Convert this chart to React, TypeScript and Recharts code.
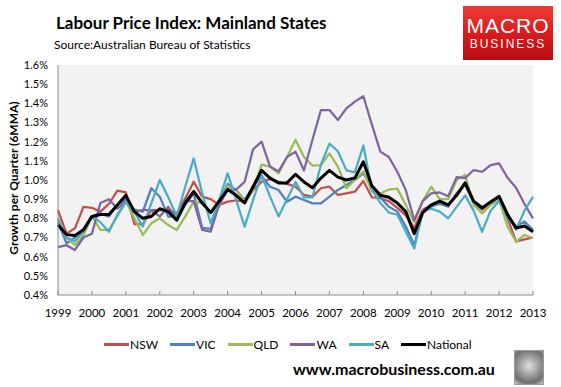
import React from 'react';
import { LineChart, Line, XAxis, YAxis, CartesianGrid } from 'recharts';

// quarterly, 1999 Q1 .. 2013 Q1, growth per quarter (%), 6MMA
const years = [1999, 2000, 2001, 2002, 2003, 2004, 2005, 2006, 2007, 2008, 2009, 2010, 2011, 2012, 2013];
const yTicks = [0.4, 0.5, 0.6, 0.7, 0.8, 0.9, 1.0, 1.1, 1.2, 1.3, 1.4, 1.5, 1.6];

const nsw = [0.843, 0.72, 0.748, 0.86, 0.855, 0.835, 0.875, 0.945, 0.935, 0.77, 0.77, 0.843, 0.843, 0.843, 0.826, 0.904, 0.991, 0.913, 0.9, 0.87, 0.887, 0.893, 0.887, 0.948, 0.99, 1.005, 0.99, 0.98, 0.965, 0.922, 0.913, 0.957, 0.965, 0.922, 0.93, 0.939, 0.995, 0.91, 0.905, 0.89, 0.855, 0.815, 0.75, 0.845, 0.87, 0.875, 0.865, 0.93, 0.975, 0.88, 0.845, 0.875, 0.905, 0.8, 0.68, 0.69, 0.7];
const vic = [0.78, 0.67, 0.7, 0.74, 0.81, 0.826, 0.809, 0.87, 0.9, 0.845, 0.835, 0.957, 0.913, 0.809, 0.809, 0.87, 0.93, 0.75, 0.745, 0.88, 0.98, 0.948, 0.896, 0.965, 1.02, 0.965, 0.948, 0.887, 0.913, 0.896, 0.878, 0.878, 0.913, 0.948, 0.974, 1.0, 1.035, 0.96, 0.91, 0.861, 0.835, 0.757, 0.66, 0.835, 0.861, 0.878, 0.861, 0.93, 0.983, 0.887, 0.852, 0.887, 0.913, 0.8, 0.757, 0.783, 0.739];
const qld = [0.79, 0.7, 0.66, 0.71, 0.81, 0.74, 0.74, 0.81, 0.89, 0.8, 0.713, 0.774, 0.8, 0.765, 0.739, 0.81, 0.887, 0.88, 0.83, 0.86, 0.97, 0.95, 0.89, 0.95, 1.08, 1.07, 1.035, 1.12, 1.21, 1.12, 1.075, 1.078, 1.139, 1.07, 0.957, 1.0, 1.045, 0.94, 0.93, 0.95, 0.955, 0.87, 0.78, 0.89, 0.965, 0.9, 0.9, 1.0, 1.026, 0.87, 0.826, 0.87, 0.896, 0.757, 0.678, 0.713, 0.696];
const wa = [0.65, 0.66, 0.635, 0.7, 0.72, 0.88, 0.9, 0.85, 0.89, 0.83, 0.845, 0.84, 0.81, 0.86, 0.8, 0.89, 0.89, 0.74, 0.73, 0.87, 0.95, 0.95, 0.99, 1.16, 1.2, 1.07, 1.045, 1.12, 1.148, 1.05, 1.21, 1.365, 1.365, 1.313, 1.374, 1.409, 1.437, 1.29, 1.148, 1.12, 1.043, 0.948, 0.79, 0.89, 0.93, 0.935, 0.915, 1.015, 1.01, 1.052, 1.043, 1.078, 1.087, 1.012, 0.96, 0.875, 0.8];
const sa = [0.8, 0.7, 0.68, 0.73, 0.81, 0.78, 0.73, 0.82, 0.885, 0.835, 0.757, 0.878, 1.0, 0.91, 0.81, 0.965, 1.113, 0.93, 0.775, 0.896, 1.035, 0.896, 0.757, 0.896, 1.026, 0.913, 0.81, 0.9, 0.99, 0.91, 0.91, 1.08, 1.19, 1.15, 1.05, 1.04, 1.18, 0.95, 0.88, 0.83, 0.82, 0.73, 0.643, 0.84, 0.85, 0.835, 0.8, 0.86, 0.92, 0.84, 0.73, 0.84, 0.89, 0.82, 0.74, 0.84, 0.913];
const national = [0.765, 0.715, 0.71, 0.74, 0.81, 0.82, 0.82, 0.87, 0.92, 0.835, 0.8, 0.81, 0.85, 0.835, 0.79, 0.88, 0.94, 0.88, 0.83, 0.89, 0.95, 0.92, 0.88, 0.965, 1.05, 1.01, 0.985, 0.985, 1.03, 0.99, 0.96, 1.01, 1.05, 1.015, 1.0, 1.01, 1.095, 0.97, 0.92, 0.91, 0.88, 0.835, 0.72, 0.83, 0.87, 0.89, 0.87, 0.92, 0.985, 0.89, 0.855, 0.885, 0.915, 0.82, 0.75, 0.76, 0.73];

const series = [
  { key: 'NSW', values: nsw, color: '#c0504d', width: 2.25 },
  { key: 'VIC', values: vic, color: '#4f81bd', width: 2.25 },
  { key: 'QLD', values: qld, color: '#9bbb59', width: 2.25 },
  { key: 'WA', values: wa, color: '#8064a2', width: 2.25 },
  { key: 'SA', values: sa, color: '#4bacc6', width: 2.25 },
  { key: 'National', values: national, color: '#000000', width: 3 },
];

const data = national.map((_, i) => {
  const row: Record<string, number> = { t: years[0] + i / 4 };
  series.forEach(s => { row[s.key] = s.values[i]; });
  return row;
});

const FONT = 'Lato, "Open Sans", sans-serif';
const AXIS_GREY = '#8c8c8c';
const TICK_SIZE = 6;
const TICK_MARGIN = 2;

function YearTick({ x, y, payload }: any) {
  const axisY = y - TICK_SIZE - TICK_MARGIN;
  return (
    <g>
      <line x1={x} x2={x} y1={axisY} y2={axisY - 4} stroke={AXIS_GREY} />
      <text x={x} y={axisY + 22} textAnchor="middle" fontSize={11.5} fill="#000" fontFamily={FONT}>
        {payload.value}
      </text>
    </g>
  );
}

export default function App() {
  return (
    <div style={{ position: 'absolute', left: 0, top: 0, width: 561, height: 387, background: '#fff', fontFamily: FONT }}>
      <div style={{ position: 'absolute', left: 56, top: 12, fontSize: 17, fontWeight: 700, color: '#000', whiteSpace: 'nowrap' }}>
        Labour Price Index: Mainland States
      </div>
      <div style={{ position: 'absolute', left: 54, top: 37, fontSize: 12, color: '#000', whiteSpace: 'nowrap' }}>
        Source:Australian Bureau of Statistics
      </div>
      <div style={{
        position: 'absolute', left: 463, top: 6, width: 90, height: 54,
        background: 'linear-gradient(180deg, #ee3b33 0%, #d4171b 60%, #b80d12 100%)',
        color: '#fff', textAlign: 'center', fontFamily: '"Liberation Sans", Arial, sans-serif',
      }}>
        <div style={{ fontSize: 21, lineHeight: '22px', marginTop: 9, letterSpacing: 1 }}>MACRO</div>
        <div style={{ fontSize: 12, lineHeight: '14px', letterSpacing: 2 }}>BUSINESS</div>
      </div>
      <div style={{
        position: 'absolute', left: 13, top: 178, transform: 'translate(-50%, -50%) rotate(-90deg)',
        fontSize: 12, fontWeight: 700, whiteSpace: 'nowrap', color: '#000',
      }}>
        Growth per Quarter (6MMA)
      </div>

      <LineChart width={561} height={387} data={data} margin={{ top: 65, right: 28, bottom: 62, left: 0 }}>
        <CartesianGrid fill="#f2f2f2" horizontal={false} vertical={false} stroke="none" />
        <XAxis
          dataKey="t"
          type="number"
          domain={[years[0], years[years.length - 1]]}
          ticks={years}
          height={30}
          stroke={AXIS_GREY}
          tickLine={false}
          tickSize={TICK_SIZE}
          tickMargin={TICK_MARGIN}
          tick={<YearTick />}
          interval={0}
        />
        <YAxis
          domain={[0.4, 1.6]}
          ticks={yTicks}
          width={58}
          stroke={AXIS_GREY}
          tickLine={false}
          tickSize={0}
          tickMargin={10}
          interval={0}
          tickFormatter={(v: number) => `${v.toFixed(1)}%`}
          tick={{ fontSize: 11, fill: '#000', fontFamily: FONT }}
        />
        {series.map(s => (
          <Line
            key={s.key}
            dataKey={s.key}
            stroke={s.color}
            strokeWidth={s.width}
            dot={false}
            isAnimationActive={false}
            strokeLinejoin="round"
          />
        ))}
      </LineChart>

      <div style={{ position: 'absolute', left: 104, top: 337, display: 'flex', alignItems: 'center', fontSize: 12, color: '#000' }}>
        {series.map(s => (
          <div key={s.key} style={{ display: 'flex', alignItems: 'center', marginRight: 12 }}>
            <span style={{ display: 'inline-block', width: 25, height: s.width, background: s.color, marginRight: 1 }} />
            <span>{s.key}</span>
          </div>
        ))}
      </div>

      <div style={{ position: 'absolute', left: 293, top: 359, fontSize: 16, fontWeight: 700, color: '#000', whiteSpace: 'nowrap' }}>
        www.macrobusiness.com.au
      </div>
      <div style={{
        position: 'absolute', left: 514, top: 350, width: 30, height: 35,
        background: 'radial-gradient(circle at 50% 45%, #e0e0e0 0%, #9a9a9a 45%, #6e6e6e 75%, #cfcfcf 100%)',
        border: '1px solid #9a9a9a', boxSizing: 'border-box',
      }} />
    </div>
  );
}
